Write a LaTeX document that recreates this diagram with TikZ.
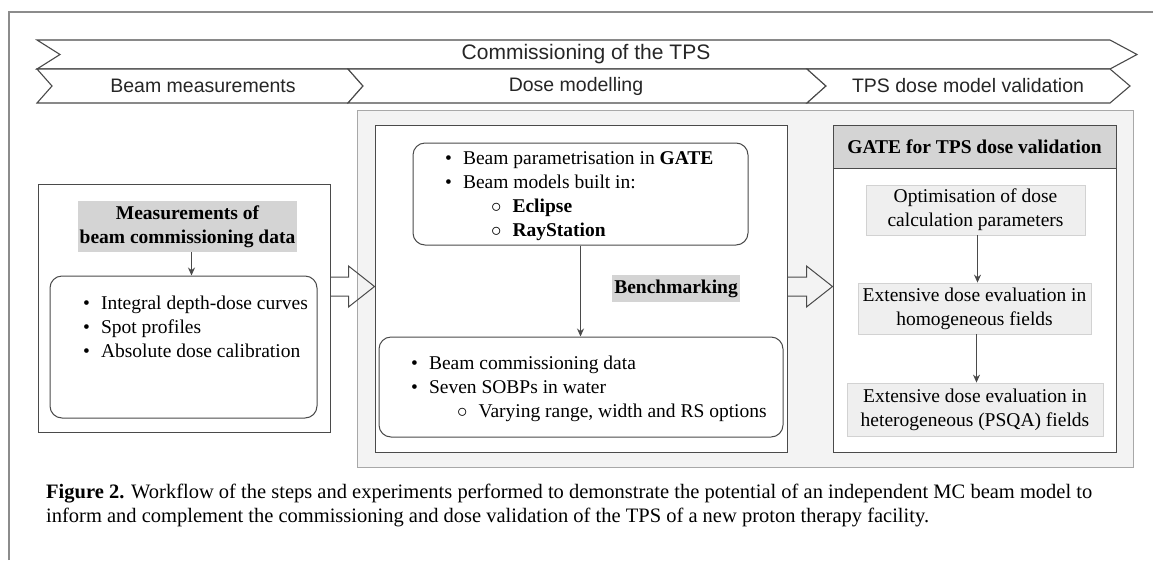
\documentclass[tikz,border=0pt]{standalone}
\usepackage{fontspec}
\setmainfont{Liberation Serif}
\setsansfont{Liberation Sans}
\usetikzlibrary{arrows.meta,positioning,calc}

\definecolor{edgegray}{HTML}{4A4A4A}
\definecolor{framegray}{HTML}{8C8C8C}
\definecolor{panelgray}{HTML}{F3F3F3}
\definecolor{paneledge}{HTML}{A8A8A8}
\definecolor{headgray}{HTML}{D4D4D4}
\definecolor{stepgray}{HTML}{EFEFEF}
\definecolor{stepedge}{HTML}{D2D2D2}

% open outline arrow between two boxes
\newcommand\hollowarrow[2]{%
  \draw[bigarrow] ($(#1)+(0,-9.5)$) -- ($(#2)+(-26,-9.5)$) -- ($(#2)+(-26,-20.5)$)
    -- (#2) -- ($(#2)+(-26,20.5)$) -- ($(#2)+(-26,9.5)$) -- ($(#1)+(0,9.5)$);}

\begin{document}
\begin{tikzpicture}[x=1pt,y=-1pt]
\tikzset{
  phase/.style={draw=edgegray,line width=1.1pt,fill=white},
  phasetext/.style={inner sep=0pt,font=\sffamily\fontsize{19.5}{22}\selectfont,text=black!85},
  framebox/.style={draw=edgegray,line width=1pt,fill=white,inner sep=0pt},
  listbox/.style={framebox,rounded corners=12pt},
  headbox/.style={fill=headgray,inner sep=0pt,align=center,font=\bfseries\fontsize{19.5}{24}\selectfont},
  stepbox/.style={fill=stepgray,draw=stepedge,line width=0.8pt,inner sep=0pt,align=center,font=\fontsize{19.5}{24}\selectfont},
  itemtext/.style={inner sep=0pt,align=left,font=\fontsize{19.5}{24}\selectfont},
  flow/.style={-{Stealth[length=8pt,width=7pt]},line width=1pt,draw=edgegray},
  bigarrow/.style={draw=edgegray,line width=1pt,line join=miter}
}
\useasboundingbox (0,0) rectangle (1153,560);

% page frame
\draw[framegray,line width=1.3pt] (9,560) -- (9,12) -- (1153,12);

% phase bars
\draw[phase] (37,40) -- (1110,40) -- (1137,54.5) -- (1110,69) -- (37,69) -- (60,54.5) -- cycle;
\draw[phase] (37,69) -- (348,69) -- (363,86) -- (348,103) -- (37,103) -- (52,86) -- cycle;
\draw[phase] (348,69) -- (807,69) -- (826,86) -- (807,103) -- (348,103) -- (363,86) -- cycle;
\draw[phase] (807,69) -- (1110,69) -- (1130,86) -- (1110,103) -- (807,103) -- (826,86) -- cycle;
\node[phasetext,font=\sffamily\fontsize{21}{24}\selectfont] (phaseAll) at (586,54.5) {Commissioning of the TPS};
\node[phasetext] (phaseMeas) at (203,86) {Beam measurements};
\node[phasetext] (phaseDose) at (576,86) {Dose modelling};
\node[phasetext] (phaseVal) at (968,86) {TPS dose model validation};

% measurements
\node[framebox,minimum width=292pt,minimum height=248pt] (measFrame) at (184,308) {};
\node[headbox,minimum width=219pt,minimum height=51pt] (measHead) at (187.5,226.5)
  {Measurements of\\beam commissioning data};
\node[listbox,minimum width=267pt,minimum height=142pt] (measBox) at (183.5,347) {};
\node[itemtext,anchor=west] (measList) at (83,327)
  {\textbullet\hspace{11pt}Integral depth-dose curves\\
   \textbullet\hspace{11pt}Spot profiles\\
   \textbullet\hspace{11pt}Absolute dose calibration};

% modelling and validation
\node[fill=panelgray,draw=paneledge,line width=1pt,minimum width=776pt,minimum height=357pt] (panel) at (745,288.5) {};
\node[framebox,minimum width=412pt,minimum height=327pt] (doseBox) at (581,288.5) {};
\node[listbox,minimum width=335pt,minimum height=102pt] (modelBox) at (580.5,194) {};
\node[itemtext,anchor=west] (modelList) at (445,196)
  {\textbullet\hspace{11pt}Beam parametrisation in \textbf{GATE}\\
   \textbullet\hspace{11pt}Beam models built in:\\
   \hspace{46pt}$\circ$\hspace{11pt}\textbf{Eclipse}\\
   \hspace{46pt}$\circ$\hspace{11pt}\textbf{RayStation}};
\node[headbox,minimum width=128pt,minimum height=27pt] (benchLbl) at (676,288.5) {Benchmarking};
\node[listbox,minimum width=404pt,minimum height=100pt] (dataBox) at (581,387) {};
\node[itemtext,anchor=west] (dataList) at (411,389)
  {\textbullet\hspace{11pt}Beam commissioning data\\
   \textbullet\hspace{11pt}Seven SOBPs in water\\
   \hspace{46pt}$\circ$\hspace{11pt}Varying range, width and RS options};

\node[framebox,minimum width=283pt,minimum height=327pt] (gateBox) at (974.5,288.5) {};
\node[headbox,draw=edgegray,line width=1pt,minimum width=283pt,minimum height=43pt] (gateHead) at (974.5,146.5)
  {GATE for TPS dose validation};
\node[stepbox,minimum width=219pt,minimum height=50pt] (optStep) at (975.5,210)
  {Optimisation of dose\\calculation parameters};
\node[stepbox,minimum width=233pt,minimum height=51pt] (homStep) at (974.5,308.5)
  {Extensive dose evaluation in\\homogeneous fields};
\node[stepbox,minimum width=256pt,minimum height=53pt] (hetStep) at (975,409.5)
  {Extensive dose evaluation in\\heterogeneous (PSQA) fields};

% flows
\draw[flow] ([xshift=4pt]measHead.south) -- ([xshift=4pt]measHead.south |- measBox.north);
\draw[flow] (modelBox.south) -- (modelBox.south |- dataBox.north);
\draw[flow] ([xshift=2pt]optStep.south) -- ([xshift=2pt]optStep.south |- homStep.north);
\draw[flow] ([xshift=2pt]homStep.south) -- ([xshift=2pt]homStep.south |- hetStep.north);

\coordinate (arrowrow) at (0,286.5);
\hollowarrow{measFrame.east |- arrowrow}{doseBox.west |- arrowrow}
\hollowarrow{doseBox.east |- arrowrow}{gateBox.west |- arrowrow}

% caption
\node[inner sep=0pt,anchor=west,align=left,font=\fontsize{20.5}{24}\selectfont] (caption) at (46,505)
  {\textbf{Figure 2.} Workflow of the steps and experiments performed to demonstrate the potential of an independent MC beam model to\\
   inform and complement the commissioning and dose validation of the TPS of a new proton therapy facility.};
\end{tikzpicture}
\end{document}
